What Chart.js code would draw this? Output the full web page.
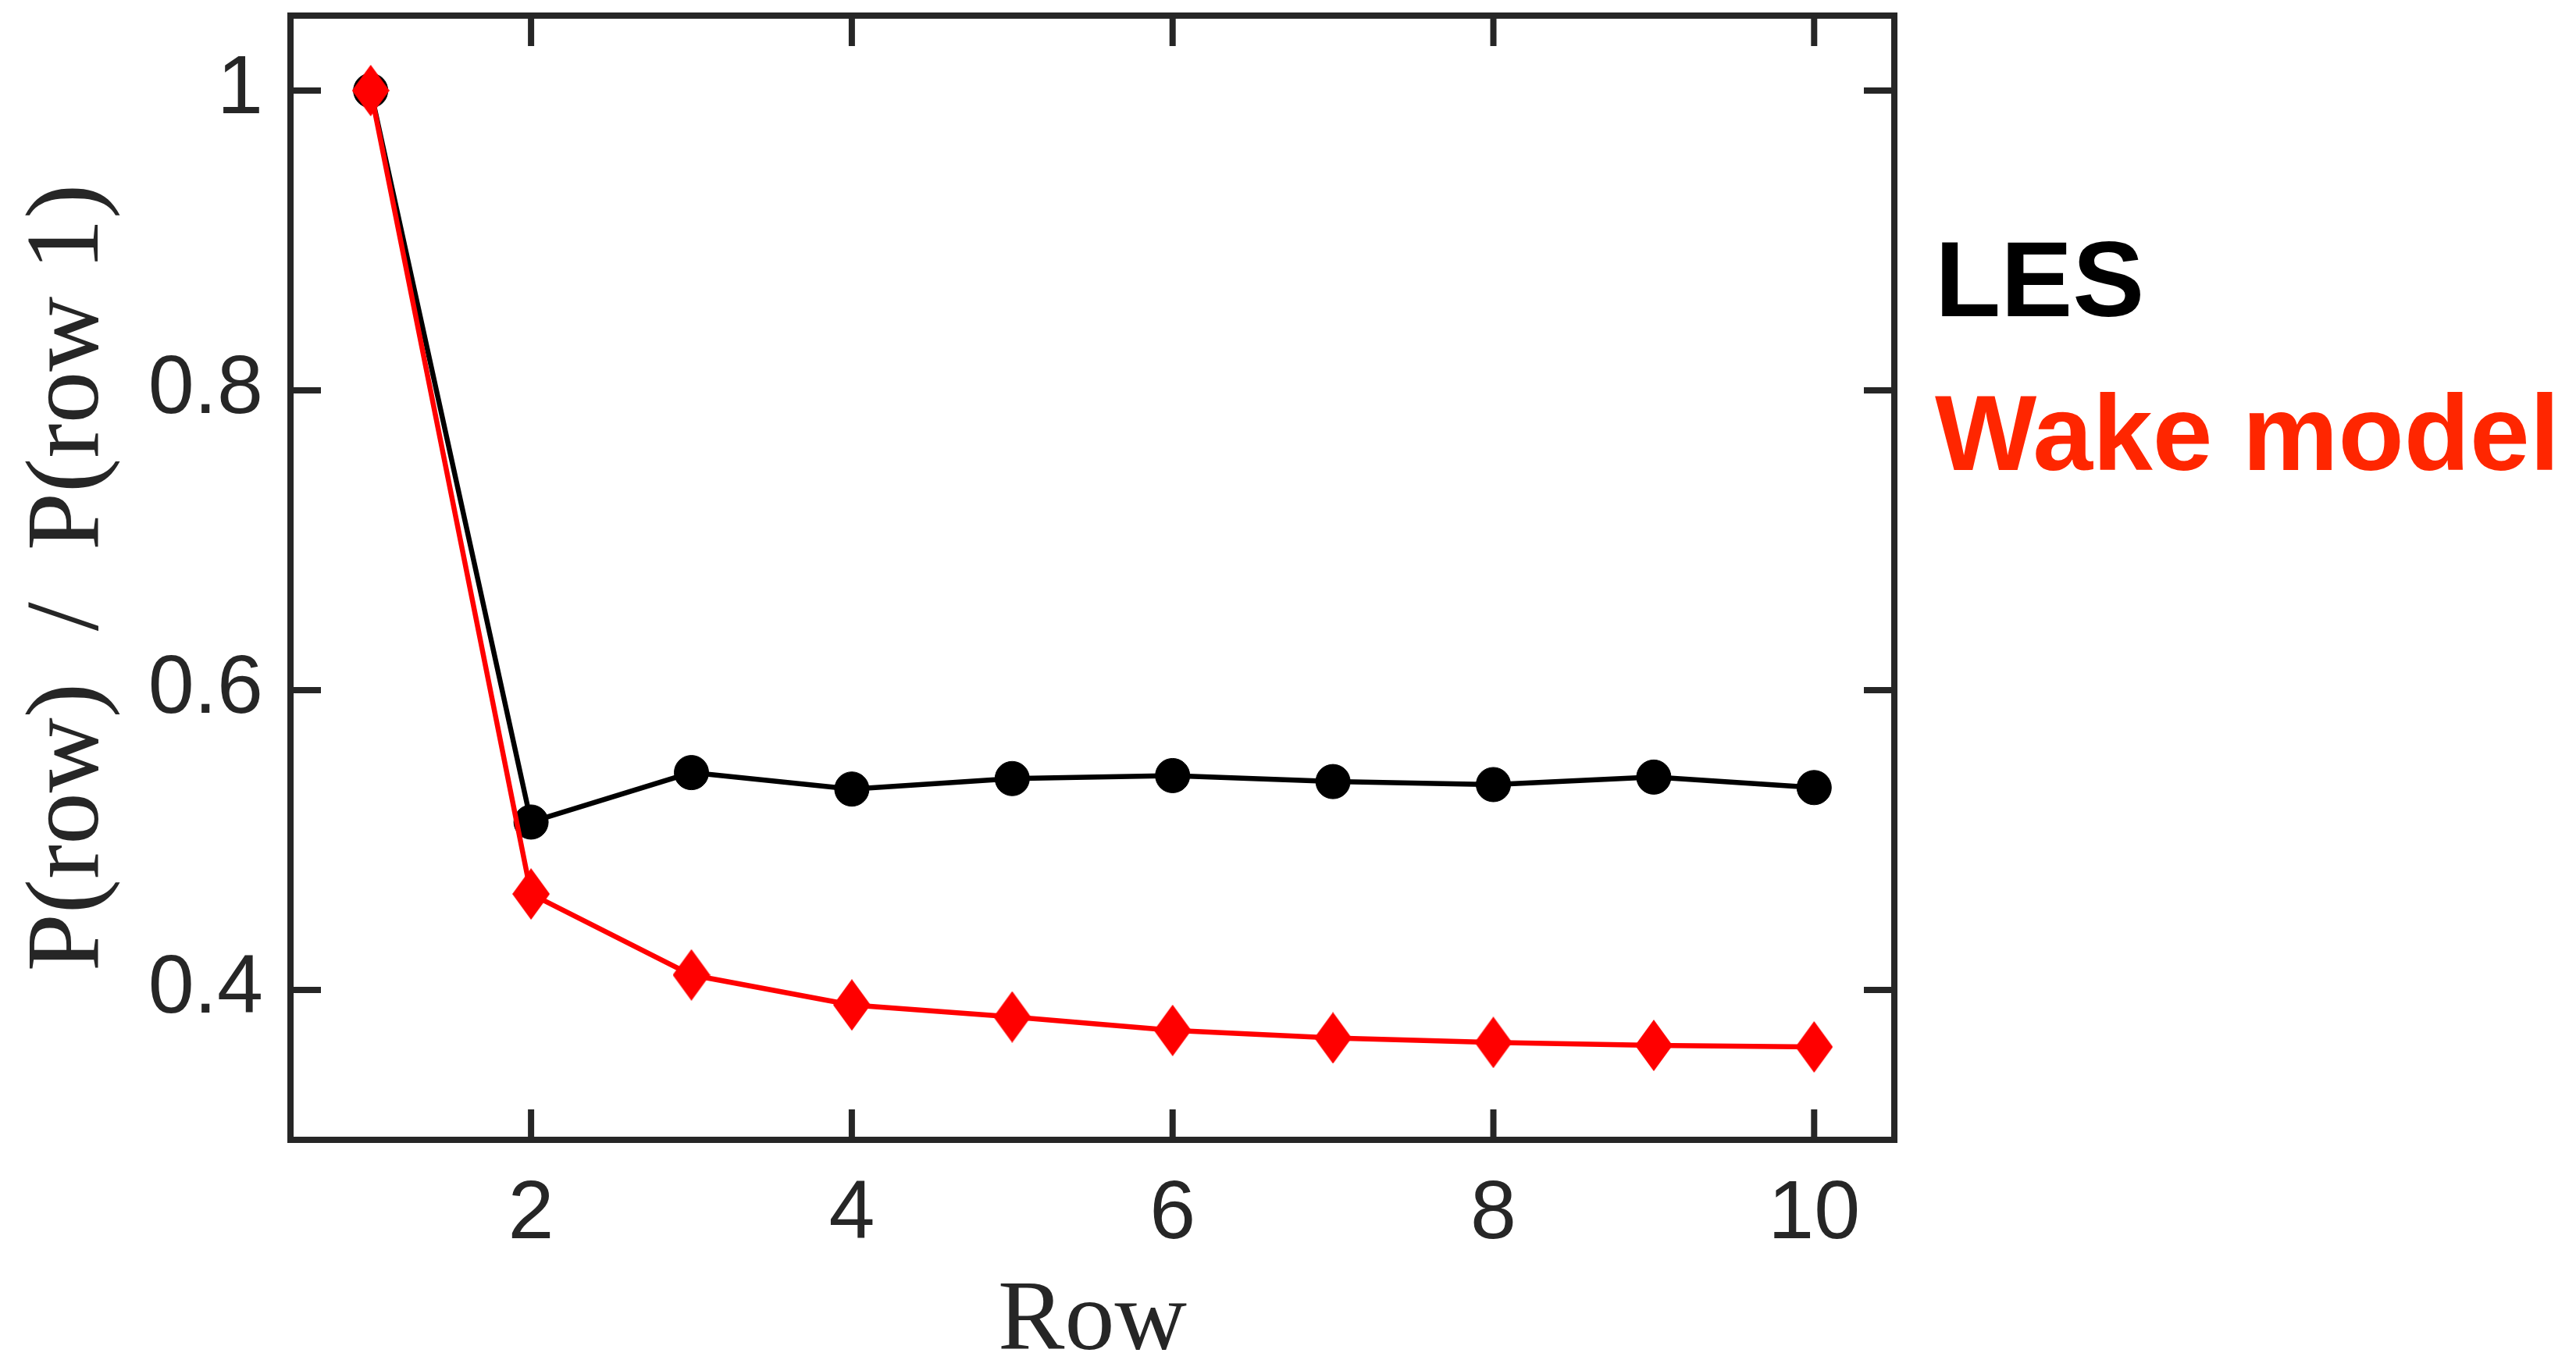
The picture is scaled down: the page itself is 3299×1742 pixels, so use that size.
<!DOCTYPE html>
<html>
<head>
<meta charset="utf-8">
<script src="https://cdn.jsdelivr.net/npm/chart.js@4/dist/chart.umd.min.js"></script>
<style>
  html, body { margin: 0; padding: 0; background: #ffffff; }
  #wrap { position: relative; width: 3299px; height: 1742px; }
  #c { position: absolute; left: 0; top: 0; }
  .leg { position: absolute; left: 2478px; font-family: "Liberation Sans", Arial, Helvetica, sans-serif;
         font-weight: bold; font-size: 138px; line-height: 138px; white-space: nowrap; }
</style>
</head>
<body>
<div id="wrap">
  <canvas id="c" width="3299" height="1742"></canvas>
</div>
<script>
// ---- data ----
const rows = [1, 2, 3, 4, 5, 6, 7, 8, 9, 10];
const lesValues  = [1.000, 0.512, 0.545, 0.534, 0.541, 0.543, 0.539, 0.537, 0.542, 0.535];
const wakeValues = [1.000, 0.464, 0.410, 0.390, 0.382, 0.373, 0.368, 0.365, 0.363, 0.362];
const seriesNames = ['LES', 'Wake model'];
const xTickValues = [2, 4, 6, 8, 10];
const xTickLabels = ['2', '4', '6', '8', '10'];
const yTickValues = [0.4, 0.6, 0.8, 1];
const yTickLabels = ['0.4', '0.6', '0.8', '1'];
const xTitle = 'Row';
const yTitle = 'P(row)\u2002/\u2002P(row 1)';

// ---- styles ----
const axisColor = '#262626';
const lesColor = '#000000';
const wakeColor = '#ff0000';
const wakeTextColor = '#ff2600';

// diamond marker
const dia = document.createElement('canvas');
dia.width = 48; dia.height = 66;
(function () {
  const g = dia.getContext('2d');
  g.fillStyle = wakeColor;
  g.beginPath();
  g.moveTo(24, 0); g.lineTo(48, 33); g.lineTo(24, 66); g.lineTo(0, 33); g.closePath();
  g.fill();
})();

const toPts = (vals) => rows.map((r, i) => ({ x: r, y: vals[i] }));

// frame + inward ticks on all four sides
const framePlugin = {
  id: 'frame',
  afterDatasetsDraw(chart) {
    const { ctx, chartArea: a, scales } = chart;
    const L = a.left, R = a.right, T = a.top, B = a.bottom;
    ctx.save();
    ctx.strokeStyle = axisColor;
    ctx.lineWidth = 8;
    ctx.lineCap = 'square';
    ctx.strokeRect(L, T, R - L, B - T);
    ctx.lineCap = 'butt';
    const tl = 39;
    xTickValues.forEach(v => {
      const px = scales.x.getPixelForValue(v);
      ctx.beginPath(); ctx.moveTo(px, B); ctx.lineTo(px, B - tl); ctx.stroke();
      ctx.beginPath(); ctx.moveTo(px, T); ctx.lineTo(px, T + tl); ctx.stroke();
    });
    yTickValues.forEach(v => {
      const py = scales.y.getPixelForValue(v);
      ctx.beginPath(); ctx.moveTo(L, py); ctx.lineTo(L + tl, py); ctx.stroke();
      ctx.beginPath(); ctx.moveTo(R, py); ctx.lineTo(R - tl, py); ctx.stroke();
    });
    ctx.restore();
  }
};

const noPad = (s) => { s.paddingTop = 0; s.paddingBottom = 0; s.paddingLeft = 0; s.paddingRight = 0; };

new Chart(document.getElementById('c'), {
  type: 'line',
  data: {
    datasets: [
      {
        label: seriesNames[1],
        data: toPts(wakeValues),
        borderColor: wakeColor,
        backgroundColor: wakeColor,
        borderWidth: 6.5,
        pointStyle: dia,
        pointRadius: 24,
        tension: 0,
        order: 0,
        clip: false
      },
      {
        label: seriesNames[0],
        data: toPts(lesValues),
        borderColor: lesColor,
        backgroundColor: lesColor,
        borderWidth: 6.5,
        pointStyle: 'circle',
        pointRadius: 22,
        pointBorderWidth: 1,
        pointBorderColor: lesColor,
        pointBackgroundColor: lesColor,
        tension: 0,
        order: 1,
        clip: false
      }
    ]
  },
  options: {
    responsive: false,
    devicePixelRatio: 1,
    animation: false,
    layout: { autoPadding: false, padding: { left: 0, top: 20, right: 873, bottom: 0 } },
    plugins: { legend: { display: false }, tooltip: { enabled: false } },
    scales: {
      x: {
        type: 'linear',
        min: 0.5, max: 10.5,
        grid: { display: false, drawTicks: false },
        border: { display: false },
        afterBuildTicks(s) { s.ticks = xTickValues.map(v => ({ value: v })); },
        afterFit(s) { s.height = 282; noPad(s); },
        ticks: {
          padding: 33,
          color: axisColor,
          maxRotation: 0,
          font: { family: '"Liberation Sans", Arial, Helvetica, sans-serif', size: 106, lineHeight: 1.2 },
          callback: (v) => xTickLabels[xTickValues.indexOf(v)]
        },
        title: {
          display: true,
          text: xTitle,
          color: axisColor,
          padding: { top: 0, bottom: 0 },
          font: { family: '"Liberation Serif", "Times New Roman", serif', size: 128, lineHeight: 0.75 }
        }
      },
      y: {
        type: 'linear',
        min: 0.3, max: 1.05,
        grid: { display: false, drawTicks: false },
        border: { display: false },
        afterBuildTicks(s) { s.ticks = yTickValues.map(v => ({ value: v })); },
        afterFit(s) { s.width = 372; noPad(s); },
        ticks: {
          padding: 35,
          color: axisColor,
          font: { family: '"Liberation Sans", Arial, Helvetica, sans-serif', size: 106, lineHeight: 1.2 },
          callback: (v) => yTickLabels[yTickValues.indexOf(v)]
        },
        title: {
          display: true,
          text: yTitle,
          color: axisColor,
          padding: { top: 30, bottom: 0 },
          font: { family: '"Liberation Serif", "Times New Roman", serif', size: 133, lineHeight: 0.9 }
        }
      }
    }
  },
  plugins: [framePlugin]
});

// legend as text
const wrap = document.getElementById('wrap');
const legColors = [lesColor, wakeTextColor];
const legTops = [288, 485];
seriesNames.forEach((name, i) => {
  const d = document.createElement('div');
  d.className = 'leg';
  d.textContent = name;
  d.style.color = legColors[i];
  d.style.top = legTops[i] + 'px';
  wrap.appendChild(d);
});
</script>
</body>
</html>
